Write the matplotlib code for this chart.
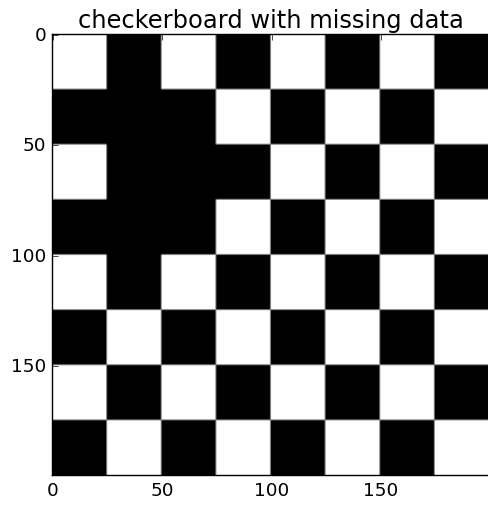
import numpy as np
import matplotlib
matplotlib.use("Agg")
import matplotlib.pyplot as plt

# 8x8 checkerboard blocks (1 = white, 0 = black, None = missing)
block_rows = [
    [1, 0, 1, 0, 1, 0, 1, 0],
    [0, None, None, 1, 0, 1, 0, 1],
    [1, None, None, 0, 1, 0, 1, 0],
    [0, None, None, 1, 0, 1, 0, 1],
    [1, 0, 1, 0, 1, 0, 1, 0],
    [0, 1, 0, 1, 0, 1, 0, 1],
    [1, 0, 1, 0, 1, 0, 1, 0],
    [0, 1, 0, 1, 0, 1, 0, 1],
]
block_size = 25
tick_values = [0, 50, 100, 150]
title = "checkerboard with missing data"

blocks = np.array([[np.nan if v is None else v for v in row] for row in block_rows], dtype=float)
data = np.kron(blocks, np.ones((block_size, block_size)))
masked = np.ma.masked_invalid(data)

plt.style.use("classic")
fig = plt.figure(figsize=(4.89, 5.10), dpi=100)
fig.patch.set_facecolor("white")
ax = fig.add_axes([52/489, 34/510, 437/489, 441/510])
cmap = plt.get_cmap("gray").copy()
cmap.set_bad("black")
ax.imshow(masked, cmap=cmap, interpolation="bilinear", interpolation_stage="rgba",
          vmin=0, vmax=1, aspect="auto")
ax.set_xticks(tick_values)
ax.set_yticks(tick_values)
ax.tick_params(labelsize=13.3, direction="in", top=True, right=True)
ax.set_title(title, fontsize=17.4)
fig.savefig("out.png", dpi=100, facecolor="white")
